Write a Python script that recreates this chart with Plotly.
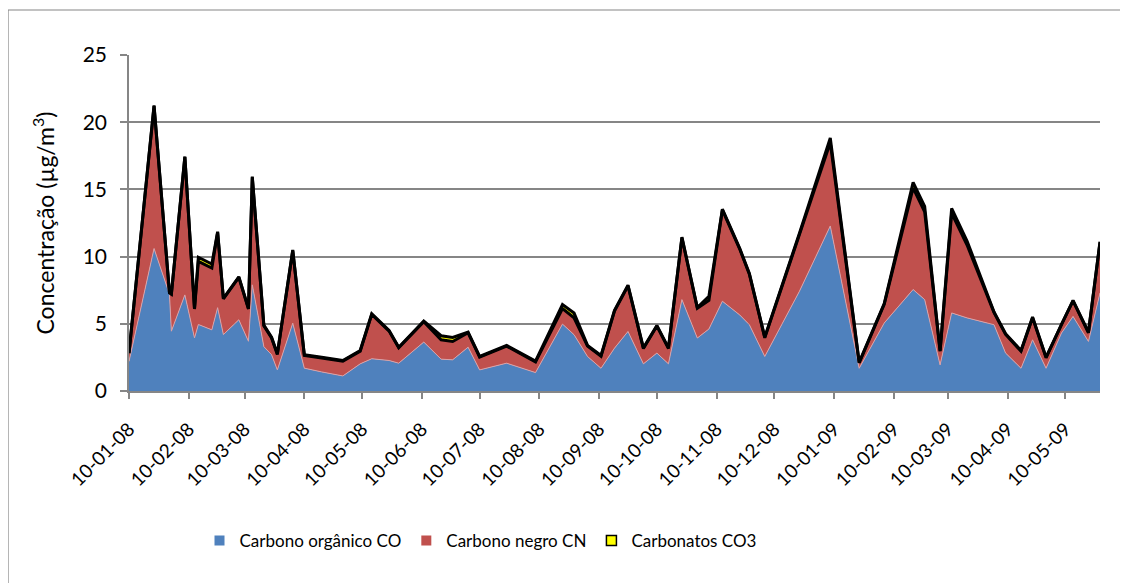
import plotly.graph_objects as go

dates = [
    "2008-01-10", "2008-01-23", "2008-01-31", "2008-02-01", "2008-02-08", "2008-02-13",
    "2008-02-15", "2008-02-22", "2008-02-25", "2008-02-28", "2008-03-07", "2008-03-12",
    "2008-03-14", "2008-03-20", "2008-03-24", "2008-03-27", "2008-04-04", "2008-04-10",
    "2008-04-19", "2008-04-30", "2008-05-09", "2008-05-15", "2008-05-24", "2008-05-29",
    "2008-06-11", "2008-06-20", "2008-06-26", "2008-07-04", "2008-07-10", "2008-07-24",
    "2008-08-08", "2008-08-22", "2008-08-28", "2008-09-04", "2008-09-11", "2008-09-18",
    "2008-09-25", "2008-10-03", "2008-10-10", "2008-10-16", "2008-10-23", "2008-10-31",
    "2008-11-06", "2008-11-13", "2008-11-22", "2008-11-27", "2008-12-05", "2008-12-23",
    "2009-01-08", "2009-01-23", "2009-02-05", "2009-02-20", "2009-02-26", "2009-03-06",
    "2009-03-12", "2009-03-20", "2009-04-03", "2009-04-09", "2009-04-17", "2009-04-23",
    "2009-04-30", "2009-05-08", "2009-05-14", "2009-05-22", "2009-05-28",
]

carbono_organico = [
    2.2, 10.6, 7.2, 4.45, 7.15, 3.95,
    4.95, 4.55, 6.2, 4.2, 5.3, 3.7,
    7.9, 3.3, 2.7, 1.57, 5.05, 1.7,
    1.42, 1.12, 2.02, 2.4, 2.27, 2.07,
    3.64, 2.37, 2.32, 3.26, 1.57, 2.07,
    1.37, 4.98, 4.19, 2.57, 1.69, 3.19,
    4.43, 2.02, 2.82, 2.02, 6.8, 3.94,
    4.61, 6.68, 5.66, 4.93, 2.57, 7.42,
    12.28, 1.69, 5.06, 7.55, 6.8, 1.94,
    5.81, 5.44, 4.93, 2.82, 1.69, 3.81,
    1.69, 4.31, 5.55, 3.69, 7.3,
]

carbono_negro = [
    0.6, 10.6, 0.1, 2.75, 10.25, 2.15,
    4.7, 4.6, 5.6, 2.65, 3.15, 2.4,
    8.0, 1.55, 1.25, 1.15, 5.4, 0.95,
    1.04, 1.1, 0.94, 3.3, 2.19, 1.14,
    1.52, 1.44, 1.36, 1.07, 0.95, 1.27,
    0.8, 1.15, 1.26, 0.77, 0.9, 2.76,
    3.39, 1.14, 2.01, 1.14, 4.6, 2.21,
    2.14, 6.8, 4.9, 3.76, 1.39, 4.27,
    6.2, 0.4, 1.39, 7.57, 6.53, 1.02,
    7.42, 5.42, 0.9, 1.39, 1.27, 1.64,
    0.78, 0.65, 1.15, 0.64, 3.76,
]

carbonatos = [
    0.05, 0.05, 0.05, 0.05, 0.05, 0.05,
    0.3, 0.3, 0.05, 0.05, 0.05, 0.05,
    0.05, 0.05, 0.05, 0.05, 0.05, 0.05,
    0.05, 0.05, 0.05, 0.05, 0.05, 0.05,
    0.05, 0.3, 0.3, 0.05, 0.05, 0.05,
    0.05, 0.3, 0.35, 0.05, 0.05, 0.05,
    0.05, 0.05, 0.05, 0.05, 0.05, 0.05,
    0.3, 0.05, 0.05, 0.05, 0.05, 0.05,
    0.35, 0.05, 0.05, 0.4, 0.4, 0.05,
    0.35, 0.3, 0.05, 0.05, 0.05, 0.05,
    0.05, 0.05, 0.05, 0.05, 0.05,
]

tick_dates = [
    "2008-01-10", "2008-02-10", "2008-03-10", "2008-04-10", "2008-05-10", "2008-06-10",
    "2008-07-10", "2008-08-10", "2008-09-10", "2008-10-10", "2008-11-10", "2008-12-10",
    "2009-01-10", "2009-02-10", "2009-03-10", "2009-04-10", "2009-05-10",
]
tick_labels = [
    "10-01-08", "10-02-08", "10-03-08", "10-04-08", "10-05-08", "10-06-08",
    "10-07-08", "10-08-08", "10-09-08", "10-10-08", "10-11-08", "10-12-08",
    "10-01-09", "10-02-09", "10-03-09", "10-04-09", "10-05-09",
]

series_names = ["Carbono orgânico CO", "Carbono negro CN", "Carbonatos CO3"]
series_colors = ["#4F81BD", "#C0504D", "#FFFF00"]

FONT = "Lato, 'Open Sans', sans-serif"
BLACK_W = 3

fig = go.Figure()
fig.add_trace(go.Scatter(
    x=dates, y=carbono_organico, name=series_names[0], mode="lines",
    stackgroup="one", fillcolor=series_colors[0], line=dict(width=1, color="#D7A3AA"),
    showlegend=False,
))
fig.add_trace(go.Scatter(
    x=dates, y=carbono_negro, name=series_names[1], mode="lines",
    stackgroup="one", fillcolor=series_colors[1], line=dict(width=0, color=series_colors[1]),
    showlegend=False,
))
fig.add_trace(go.Scatter(
    x=dates, y=carbonatos, name=series_names[2], mode="lines",
    stackgroup="one", fillcolor=series_colors[2], line=dict(width=BLACK_W, color="#000000"),
    showlegend=False,
))
# black border along the bottom of the carbonate band (top of CN)
red_top = [a + b for a, b in zip(carbono_organico, carbono_negro)]
fig.add_trace(go.Scatter(
    x=dates, y=red_top, mode="lines", showlegend=False, hoverinfo="skip",
    line=dict(width=BLACK_W, color="#000000"),
))

# legend entries (square swatches)
for name, col in zip(series_names, series_colors):
    border = dict(width=1.5, color="#000000") if col == "#FFFF00" else dict(width=0)
    fig.add_trace(go.Scatter(
        x=[None], y=[None], mode="markers", name=name,
        marker=dict(symbol="square", size=10, color=col, line=border),
    ))

grid_col = "#868686"
fig.update_layout(
    width=1120, height=575,
    margin=dict(l=121, r=28, t=47, b=192),
    paper_bgcolor="white", plot_bgcolor="white",
    font=dict(family=FONT, color="#000000"),
    showlegend=True,
    legend=dict(
        orientation="h", x=0.362, xanchor="center", y=-0.446, yanchor="middle",
        font=dict(size=17, family=FONT), traceorder="normal",
        itemwidth=30, bgcolor="rgba(0,0,0,0)",
    ),
    xaxis=dict(
        type="date", range=["2008-01-10", "2009-05-28"],
        tickvals=tick_dates, ticktext=tick_labels, tickangle=-45,
        tickfont=dict(size=19, family=FONT),
        showgrid=False, showline=True, linecolor=grid_col, linewidth=1.5,
        ticks="outside", ticklen=6, tickcolor=grid_col, tickwidth=1.5,
        ticklabelstandoff=12,
        zeroline=False,
    ),
    yaxis=dict(
        range=[0, 25], tickvals=[0, 5, 10, 15, 20, 25],
        tickfont=dict(size=21, family=FONT),
        showgrid=True, gridcolor=grid_col, gridwidth=1.5,
        showline=True, linecolor=grid_col, linewidth=1.5,
        ticks="outside", ticklen=7, tickcolor=grid_col, tickwidth=1.5,
        ticklabelstandoff=9,
        zeroline=False,
        title=dict(text="Concentração (µg/m<sup>3</sup>)", font=dict(size=23, family=FONT), standoff=22),
    ),
    shapes=[
        dict(type="line", xref="paper", yref="paper", x0=-0.1246, x1=1.1, y0=1.134, y1=1.134,
             line=dict(color=grid_col, width=1.2)),
        dict(type="line", xref="paper", yref="paper", x0=-0.1246, x1=-0.1246, y0=1.134, y1=-0.7,
             line=dict(color=grid_col, width=1.2)),
    ],
)

fig.write_html("out.html")
